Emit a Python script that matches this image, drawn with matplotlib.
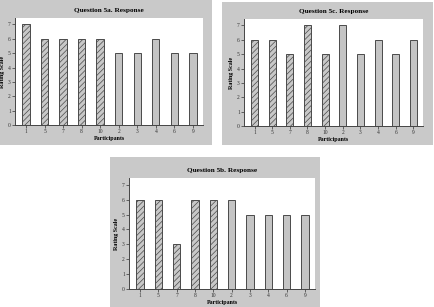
import matplotlib
matplotlib.use("Agg")
import matplotlib.pyplot as plt
from matplotlib.patches import Rectangle

participants = ["1", "5", "7", "8", "10", "2", "3", "4", "6", "9"]
hatched = [True, True, True, True, True, False, False, False, False, False]
q5a = [7, 6, 6, 6, 6, 5, 5, 6, 5, 5]
q5c = [6, 6, 5, 7, 5, 7, 5, 6, 5, 6]
q5b = [6, 6, 3, 6, 6, 6, 5, 5, 5, 5]
titles = ["Question 5a. Response", "Question 5c. Response", "Question 5b. Response"]
yticks = [0, 1, 2, 3, 4, 5, 6, 7]

W, H = 435, 307
plt.rcParams["hatch.linewidth"] = 0.5
plt.rcParams["hatch.color"] = "#505050"
fig = plt.figure(figsize=(W / 100, H / 100), dpi=100)
fig.patch.set_facecolor("white")
FONT = ["Liberation Serif", "DejaVu Serif"]

# panels: (grey box px), (axes px) as left, top, right, bottom
panels = [
    ((0, 0, 212, 145), (15, 18, 203, 125), q5a, titles[0]),
    ((222, 2, 433, 145), (244, 19, 423, 126), q5c, titles[1]),
    ((110, 157, 320, 307), (129, 178, 315, 289), q5b, titles[2]),
]

def fx(x):
    return x / W

def fy(y):
    return 1 - y / H

for (gl, gt, gr, gb), (al, at, ar, ab), vals, title in panels:
    fig.patches.append(Rectangle((fx(gl), fy(gb)), fx(gr - gl), (gb - gt) / H,
                                 transform=fig.transFigure, facecolor="#c9c9c9",
                                 edgecolor="none", zorder=-10))
    ax = fig.add_axes([fx(al), fy(ab), fx(ar - al), (ab - at) / H])
    ax.set_zorder(1)
    ax.set_facecolor("white")
    xs = list(range(len(participants)))
    for x, v, h in zip(xs, vals, hatched):
        if h:
            ax.bar(x, v, width=0.4, facecolor="#c8c8c8", edgecolor="#4a4a4a",
                   hatch="//////", linewidth=0.7)
        else:
            ax.bar(x, v, width=0.4, facecolor="#c4c4c4", edgecolor="#4a4a4a",
                   linewidth=0.7)
    ax.set_xlim(-0.6, len(participants) - 0.45)
    ax.set_ylim(0, 7.45)
    ax.set_xticks(xs)
    ax.set_xticklabels(participants, fontsize=4, family=FONT)
    ax.set_yticks(yticks)
    ax.set_yticklabels([str(t) for t in yticks], fontsize=4, family=FONT)
    ax.tick_params(length=2, width=0.5, pad=1, colors="#333333")
    for s in ["top", "right"]:
        ax.spines[s].set_visible(False)
    for s in ["left", "bottom"]:
        ax.spines[s].set_color("#444444")
        ax.spines[s].set_linewidth(0.7)
    ax.set_xlabel("Participants", fontsize=4.3, fontweight="bold", family=FONT, labelpad=1)
    ax.set_ylabel("Rating Scale", fontsize=4.3, fontweight="bold", family=FONT, labelpad=2)
    ax.set_title(title, fontsize=5.2, fontweight="bold", family=FONT, pad=4)

fig.savefig("out.png", dpi=100, facecolor="white")
